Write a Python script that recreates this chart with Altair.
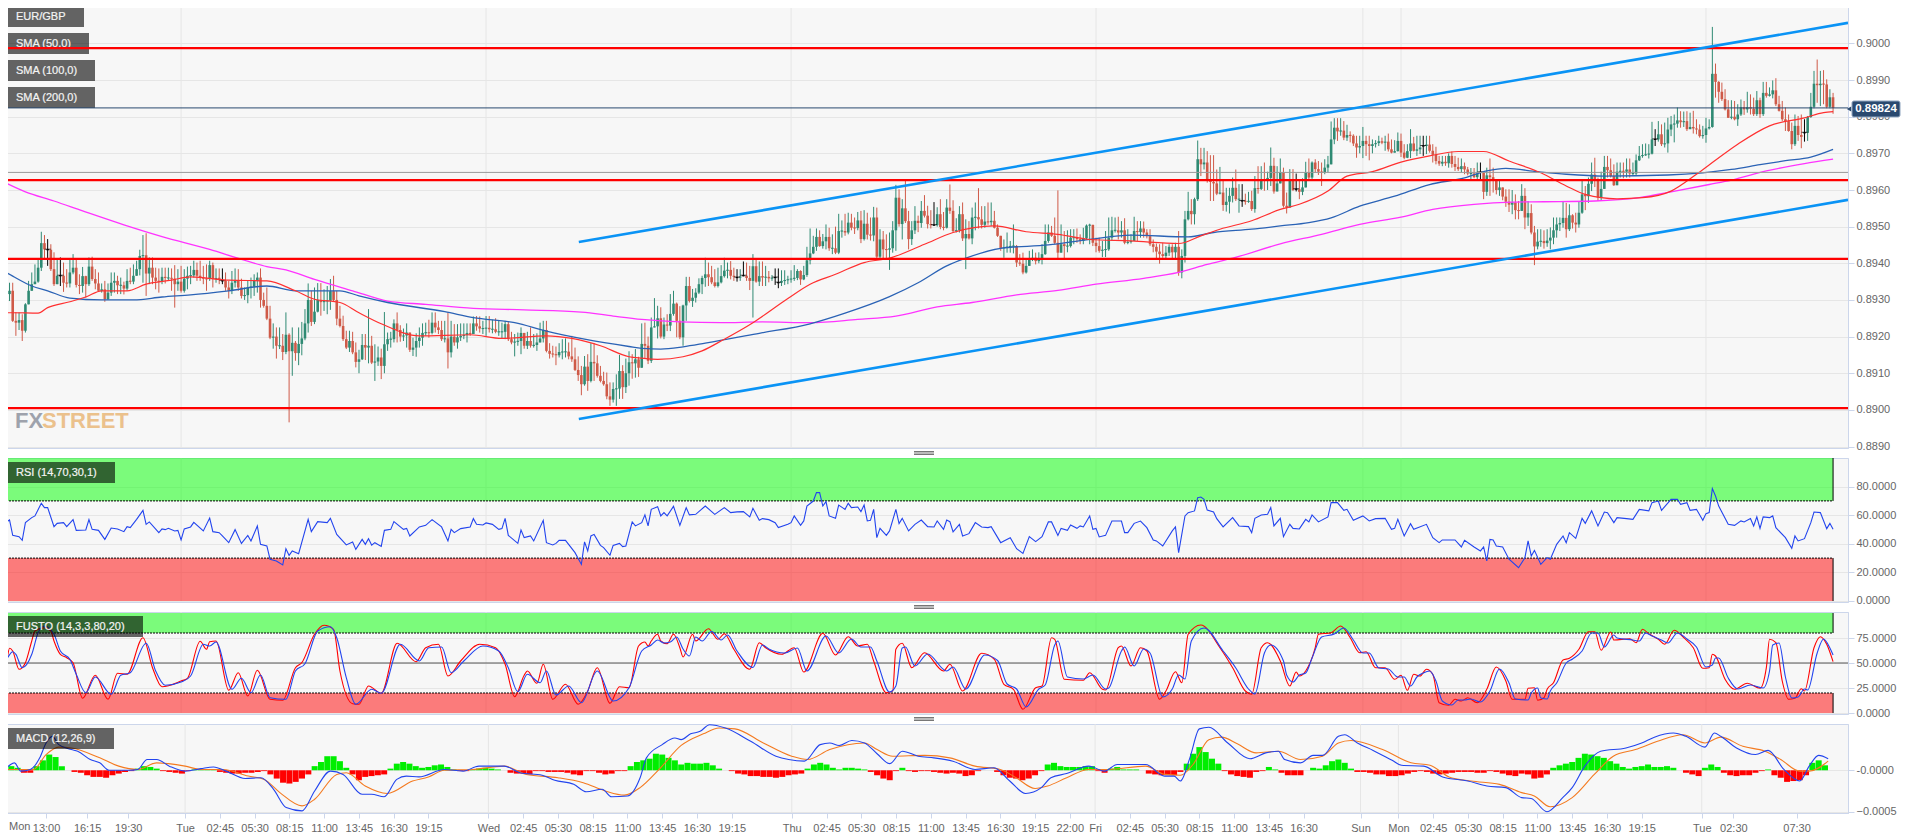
import altair as alt, pandas as pd
W=1848; N=581.7
days=[57,153,249,345,429,441,537]
ticks={13:"13:00",26:"16:15",39:"19:30",57:"Tue",68:"02:45",79:"05:30",90:"08:15",101:"11:00",112:"13:45",123:"16:30",134:"19:15",153:"Wed",164:"02:45",175:"05:30",186:"08:15",197:"11:00",208:"13:45",219:"16:30",230:"19:15",249:"Thu",260:"02:45",271:"05:30",282:"08:15",293:"11:00",304:"13:45",315:"16:30",326:"19:15",337:"22:00",345:"Fri",356:"02:45",367:"05:30",378:"08:15",389:"11:00",400:"13:45",411:"16:30",429:"Sun",441:"Mon",452:"02:45",463:"05:30",474:"08:15",485:"11:00",496:"13:45",507:"16:30",518:"19:15",537:"Tue",547:"02:30",567:"07:30"}
# prices in 0.00001 above 0.89000
close=[288,291,316,325,243,238,245,216,288,325,343,350,388,455,438,437,384,343,366,366,347,345,375,388,341,338,365,343,391,357,345,325,329,302,320,347,352,340,340,331,352,350,366,384,420,422,372,388,361,352,350,363,360,360,358,343,350,325,358,366,367,382,366,361,358,357,395,357,360,358,352,334,325,347,352,334,311,313,334,336,352,361,300,284,249,197,200,175,175,158,205,160,183,155,180,195,236,300,240,268,
300,294,297,298,324,300,249,229,193,170,188,157,131,138,177,170,175,129,132,143,120,179,193,193,236,218,200,203,211,164,170,188,197,210,211,210,238,225,218,193,195,157,200,184,198,202,204,210,207,236,228,222,222,224,220,220,213,213,213,234,193,184,186,188,210,175,188,175,177,184,195,218,161,153,152,149,158,158,159,146,138,109,95,70,118,79,131,127,93,79,70,37,28,57,58,106,
62,100,130,127,138,115,180,175,134,225,228,250,200,233,230,262,290,243,198,285,338,297,306,320,343,360,370,362,348,338,348,365,380,382,366,363,361,364,366,360,352,392,350,365,361,363,359,360,361,347,352,354,356,358,360,379,356,368,408,427,
445,472,447,460,472,441,441,429,488,488,484,511,497,496,517,466,508,478,476,525,418,465,438,437,441,490,579,507,550,515,466,490,516,510,543,530,507,
504,504,534,499,497,552,543,488,490,534,468,480,468,525,526,520,505,514,512,516,497,475,441,443,445,447,447,402,399,375,393,411,415,406,411,425,461,484,475,456,429,452,447,447,470,470,466,461,468,503,505,456,447,434,437,438,470,490,490,484,490,456,458,461,488,485,495,484,474,452,445,432,425,420,429,445,430,445,375,420,520,543,534,575,684,670,675,625,622,618,590,593,559,568,584,606,575,575,
570,568,570,548,605,603,630,626,633,666,596,618,648,557,552,625,600,602,595,607,648,634,675,657,650,648,661,670,738,770,760,762,743,750,748,727,716,720,734,725,720,725,728,733,729,732,711,702,706,734,702,688,706,727,707,711,716,720,724,707,696,679,672,677,673,693,671,663,657,665,656,645,645,635,645,648,595,640,635,625,600,607,582,568,560,566,545,543,584,525,537,484,446,459,461,455,462,
470,490,506,510,524,493,531,511,506,538,588,583,617,642,625,579,603,663,654,638,613,650,652,650,656,645,645,681,693,695,697,699,738,738,752,725,727,765,779,781,790,785,788,766,772,768,765,747,750,768,772,917,895,868,848,820,797,800,793,806,826,820,826,822,807,845,807,865,857,861,872,834,816,793,788,761,725,775,750,745,756,799,827,890,886,890,888,827,853,824]
high=[334,343,343,347,347,267,266,261,291,352,375,397,411,486,477,466,452,430,411,416,402,384,411,425,411,370,390,366,416,418,384,375,345,352,345,375,375,366,361,350,384,388,397,407,437,477,482,416,416,388,386,388,388,388,386,395,384,393,384,391,393,407,402,407,393,397,407,402,386,386,386,375,352,379,386,384,358,334,352,361,370,375,386,320,334,284,236,225,225,207,266,209,225,188,225,240,275,345,325,334,
346,346,329,338,357,366,325,284,257,216,216,213,184,164,207,207,275,202,179,173,167,267,211,213,247,266,231,222,236,211,197,209,225,236,238,246,266,266,243,243,243,266,243,234,234,236,236,236,236,255,256,255,243,256,256,246,250,243,238,243,240,213,207,211,225,209,213,225,207,209,238,243,243,182,175,173,182,193,195,184,202,170,146,120,147,152,182,182,149,120,104,102,75,75,97,150,
122,140,160,152,166,145,236,238,200,252,305,284,280,252,261,316,325,293,283,287,363,363,330,332,359,366,415,402,393,384,388,395,415,402,406,388,384,384,405,402,393,425,411,405,405,393,379,368,386,386,381,381,366,381,395,384,381,393,445,495,
475,495,490,480,506,497,479,500,535,517,535,538,535,525,540,543,545,538,525,554,552,493,488,479,484,515,614,602,575,625,543,515,556,530,570,586,557,
545,567,553,575,540,575,615,572,523,556,566,520,515,552,566,605,556,556,566,566,543,506,475,465,484,461,506,450,425,429,411,434,438,429,430,452,506,506,502,525,599,506,488,490,493,493,495,479,497,506,508,505,470,470,461,488,525,527,525,527,515,523,493,479,527,515,515,514,493,493,465,454,452,456,447,452,452,456,488,438,543,595,575,579,735,715,715,706,695,695,656,663,629,606,606,634,656,616,
616,590,595,598,638,665,665,675,650,716,688,665,686,661,593,657,657,645,629,632,677,686,678,684,679,675,684,693,787,796,796,796,788,778,760,752,748,748,772,748,748,738,736,748,743,748,754,738,736,757,754,725,725,766,745,748,748,748,748,748,725,718,693,693,693,700,705,693,688,686,675,663,660,660,675,675,652,661,686,661,630,629,600,602,602,600,588,570,616,605,570,561,502,493,493,490,493,
498,525,525,525,570,565,561,534,538,570,625,611,634,675,688,634,650,693,693,686,670,675,675,675,686,686,675,697,720,725,727,725,786,766,788,779,784,797,802,806,825,815,814,815,811,816,793,779,775,797,793,1045,945,897,893,875,845,845,843,834,847,843,868,861,852,870,852,895,895,880,899,905,857,843,825,806,784,806,802,806,793,802,865,925,956,925,927,902,875,865]
low=[266,270,270,297,240,202,218,188,211,288,325,345,347,379,411,393,379,338,345,338,322,334,334,370,334,316,320,306,338,352,329,325,320,295,300,311,320,316,316,315,325,343,343,366,367,347,311,343,343,329,320,343,345,352,325,279,325,320,320,329,343,361,352,352,343,325,352,334,347,343,343,325,304,316,334,325,304,300,291,304,311,320,279,279,245,193,167,140,166,136,152,-34,93,134,122,149,190,211,229,234,
266,257,270,261,273,297,231,225,188,166,158,152,116,100,136,136,127,125,79,120,84,100,161,170,184,184,186,188,170,158,147,145,170,175,202,197,206,211,207,188,184,113,143,175,167,188,193,184,202,207,216,211,207,202,211,209,209,202,195,193,188,179,146,175,152,167,166,170,170,161,184,184,157,140,143,122,143,138,143,138,131,106,79,40,66,52,75,79,88,75,66,29,11,20,11,30,
30,46,66,85,88,90,130,140,125,128,225,195,195,193,215,215,257,198,193,175,243,293,281,293,316,316,336,338,343,334,334,345,361,359,356,352,350,352,366,352,327,252,347,338,338,338,348,352,341,332,338,341,343,347,352,354,341,354,363,397,
425,434,445,440,438,434,425,425,425,470,475,479,490,480,490,455,462,465,462,460,414,414,414,411,382,429,434,500,465,510,438,450,480,485,497,525,495,
495,502,500,493,490,495,535,484,484,484,461,384,465,452,490,495,495,497,505,502,495,472,434,415,429,429,427,390,393,370,372,393,406,397,400,397,423,456,472,452,411,432,414,430,443,452,456,452,452,465,452,447,430,429,417,417,434,461,484,465,470,452,452,454,461,461,470,470,468,447,430,414,399,415,414,420,414,411,366,359,402,517,506,506,570,638,656,620,570,570,586,588,543,541,536,566,570,538,
554,560,565,543,538,590,600,598,600,611,590,605,625,552,536,566,597,596,575,586,608,625,625,648,641,611,643,648,670,725,734,748,736,734,730,720,688,700,687,693,681,700,716,720,725,707,705,700,703,705,690,684,687,687,705,693,698,693,698,702,675,670,666,665,666,661,661,652,652,648,643,640,630,632,626,625,575,584,584,593,588,584,572,554,540,534,520,520,543,493,502,479,395,438,445,440,445,
438,452,470,488,497,470,488,495,484,497,535,545,565,597,608,570,570,611,634,634,611,615,634,632,634,634,638,640,679,688,693,686,697,720,732,720,716,702,747,730,770,770,772,761,766,754,752,743,740,729,765,770,852,838,843,817,797,793,790,775,802,805,811,806,802,802,797,802,852,855,850,829,814,788,761,759,711,720,734,714,732,734,797,823,838,829,834,823,823,808]
doji=[15,19,70,232,234,244,245,294,391,408,448,466,521,568]
sma50=[(0,265),(4,265),(12,264),(15,279),(22,295),(27,308),(32,325),(40,325),(46,343),(54,354),(60,363),(72,354),(84,352),(93,325),(99,302),(107,293),(113,265),(120,235),(132,202),(148,205),(158,195),(172,202),(180,195),(189,175),(198,145),(202,141),(207,138),(215,145),(221,161),(228,193),(237,238),(248,304),(255,343),(263,370),(272,402),(280,414),(291,452),(300,484),(313,502),(323,486),(333,479),(343,465),(356,461),(371,454),(378,475),(384,493),(394,516),(403,547),(409,561),(418,597),(424,638),(432,650),(441,676),(450,693),(459,705),(467,705),(475,679),(485,647),(493,611),(499,588),(509,576),(517,579),(526,597),(534,643),(539,675),(547,725),(557,775),(568,797),(574,811),(577,814)]
sma100=[(0,385),(4,365),(10,338),(15,325),(22,305),(32,300),(42,300),(51,308),(60,314),(72,325),(84,338),(93,325),(107,325),(113,311),(122,293),(140,268),(149,252),(162,238),(172,215),(184,193),(198,173),(202,168),(208,166),(215,172),(222,182),(239,209),(255,235),(266,264),(280,309),(289,347),(298,393),(304,414),(315,441),(330,450),(343,465),(356,477),(374,472),(382,484),(394,493),(403,502),(412,511),(419,524),(428,556),(439,583),(450,615),(461,633),(468,652),(474,659),(484,650),(493,643),(505,638),(525,641),(536,647),(545,656),(554,669),(562,680),(570,690),(577,711)]
sma200=[(0,627),(8,595),(17,570),(26,543),(39,505),(51,473),(66,438),(76,411),(84,391),(90,382),(99,356),(111,325),(122,297),(134,288),(149,277),(165,273),(183,267),(193,256),(202,247),(214,240),(227,238),(240,240),(255,238),(270,247),(282,256),(295,281),(306,293),(320,314),(333,326),(345,343),(360,359),(371,375),(380,397),(388,414),(403,453),(416,479),(428,506),(441,526),(451,547),(464,561),(476,567),(486,568),(502,570),(516,579),(526,595),(538,615),(545,627),(556,652),(568,672),(577,684)]
res_lines=[0.89987,0.89412,0.89005,0.89627]
trend=[[(182.2,0.89458),(581.7,0.90056)],[(182.2,0.88975),(581.7,0.89573)]]
last_price=0.89824; grey_level=0.89648
rsi=[(0,51.8),(1,53.6),(3,56.7),(4,45.9),(6,45),(7,42.4),(8,54.8),(10,58.3),(11,59.5),(13,68.3),(14,65.3),(15,65.3),(17,52),(18,54.3),(20,54.8),(21,52),(23,56.9),(24,49.4),(27,49.7),(28,56.9),(29,50.1),(31,49.4),(33,43.1),(35,51),(37,50.4),(39,48.5),(40,52),(41,51.3),(43,57.1),(45,63.4),(46,53.6),(47,55.3),(50,47.8),(51,50.4),(52,49.9),(53,50.8),(55,49),(56,49.4),(57,42.7),(58,50.4),(60,51.8),(61,55),(64,49),(66,58),(67,48.5),(69,47.8),(70,45.5),(72,40.8),(74,49.9),(76,40.3),(78,45.9),(79,42),(81,52.5),(82,39.6),(84,38.5),(85,29.2),(87,28),(89,25.2),(90,36.6),(91,31.9),(92,35),(94,33.1),(97,57.1),(98,48.5),(100,55.5),(103,54.8),(104,57.8),(106,46.6),(109,39.2),(111,41.3),(112,36.1),(114,43.1),(115,39.6),(116,43.6),(117,39),(118,40.8),(120,38.2),(121,49.4),(123,50.1),(124,55.5),(127,50.1),(128,50.8),(129,45.5),(132,51.8),(134,52.9),(136,56.9),(139,51.8),(141,42),(142,50.1),(143,47.8),(145,50.6),(148,51.8),(149,57.6),(150,53.6),(152,53.2),(153,54.6),(155,53.6),(157,50.1),(158,50.6),(159,57.8),(160,45.9),(163,40.3),(164,49.7),(165,44.3),(167,45.5),(168,42),(171,56.4),(172,40.8),(174,39.2),(175,40.3),(176,42.4),(178,42.4),(181,33.8),(183,25.6),(184,41.3),(185,35),(186,45.5),(187,46.6),(189,38.9),(190,37.3),(192,32),(193,38.9),(195,40.3),(196,38),(197,38.5),(199,55.3),(200,52.5),(202,54.8),(203,60.2),(204,52.5),(205,64.1),(207,66),(208,59.5),(209,61.8),(210,59.5),(212,66.2),(214,52.9),(216,65.3),(217,60.2),(219,60.6),(222,66.4),(225,60.6),(228,65.3),(230,61.8),(232,62.3),(234,62.5),(236,58.8),(237,64.8),(239,56.4),(240,57.6),(242,56.9),(244,54.8),(245,51.3),(248,53.6),(249,54.8),(250,59.5),(252,52.9),(253,56),(254,66.4),(256,69.9),(257,75.8),(258,75.8),(259,66.4),(260,69.5),(261,59.5),(263,57.8),(264,67.1),(266,64.1),(267,68.3),(268,65.3),(270,65.7),(271,62.5),(272,67.1),(273,56),(274,56.4),(275,64.1),(276,44.3),(277,50.8),(279,45.9),(280,49),(282,64.1),(283,54.1),(284,57.8),(286,49),(288,53.6),(290,56.6),(292,52),(294,51.8),(295,56),(297,50.1),(298,56.6),(299,55.5),(300,48.3),(302,53.6),(303,45.5),(305,47.1),(307,54.8),(309,51.8),(311,51.3),(312,52),(315,40.8),(316,42),(318,44.3),(320,36.6),(322,33.3),(324,45),(326,41.5),(328,45),(330,55.3),(331,55.3),(333,45.9),(334,50.8),(336,49.4),(337,53.2),(339,50.8),(340,52.5),(341,51.8),(343,59.5),(344,50.1),(345,50.8),(346,44.8),(348,45.9),(350,55.9),(353,55.9),(354,47.8),(355,47.8),(357,54.3),(359,55.9),(361,51.3),(363,42.7),(364,42),(366,38.5),(369,49),(370,51.8),(371,33.8),(373,59.5),(374,61.8),(376,63),(377,72.3),(378,72.7),(379,71.1),(380,63.6),(382,62.2),(383,57.6),(385,51.8),(388,58.3),(390,52.5),(393,52),(394,47.8),(395,57.8),(397,60.2),(399,60.6),(400,65.3),(401,52.5),(403,57.8),(404,45),(406,53.6),(407,50.8),(409,50.4),(411,57.1),(412,55.3),(413,60.2),(415,55.3),(418,58.8),(419,68.8),(421,68.8),(423,63.4),(424,64.1),(426,56.4),(429,59.5),(431,56),(433,57.6),(436,57.8),(438,50.1),(439,50.8),(440,57.1),(442,45.5),(444,54.1),(445,50.1),(449,53.6),(451,44.3),(453,40.8),(454,42.7),(458,42.7),(460,37.8),(461,42.4),(464,37.8),(466,35),(467,37.8),(468,28),(469,43.1),(470,42.7),(471,38.5),(473,37.8),(475,29.2),(478,23.3),(480,30.3),(481,42),(482,31.5),(483,35.4),(485,25.6),(487,30.3),(488,29.2),(490,39.6),(492,45.5),(493,40.8),(494,47.8),(496,43.8),(498,57.8),(499,54.3),(501,63),(503,52.5),(505,62.2),(506,61.8),(508,54.8),(509,58.3),(512,57.6),(514,57.1),(516,64.1),(519,63),(520,68.8),(522,69.9),(523,63.4),(526,71.1),(528,71.1),(529,67.6),(531,68.8),(532,63.4),(534,64.1),(536,56.4),(537,61.1),(538,61.8),(539,78.6),(540,73.4),(541,66.4),(544,53.6),(546,52.9),(548,56),(549,55.3),(551,57.6),(552,52.5),(553,58.8),(554,50.8),(555,58.8),(557,58.3),(558,59.5),(559,51.3),(562,44.3),(564,36.8),(565,45.5),(566,42),(568,43.6),(570,54.8),(571,62.2),(573,61.8),(575,50.6),(576,54.3),(577,50.1)]
sto_k=[(0,49.7),(2,52),(3,64.7),(4,62),(6,43.7),(8,50.3),(10,72),(11,82),(14,85.3),(16,82),(17,72),(19,58.7),(21,55.3),(23,50.3),(26,14.7),(30,37.7),(34,13.7),(37,39.7),(40,38.7),(45,75.3),(48,45.3),(51,26.3),(57,32),(59,34.7),(63,71.7),(65,63.7),(66,71.3),(68,72),(72,22.7),(75,40.3),(78,17),(81,42.7),(85,13.7),(89,12.7),(93,45.3),(95,50.3),(99,78.7),(102,87.7),(105,83.7),(107,42),(111,9.3),(113,8.7),(116,27),(120,19.7),(125,69.7),(131,51.3),(134,65.3),(138,68.7),(141,37),(145,52),(151,68.7),(156,65.3),(159,48.7),(162,16.3),(165,37.7),(166,42),(169,29.7),(171,48.7),(174,13.7),(178,28.7),(182,8.7),(185,22),(188,45.3),(192,9.7),(195,26.3),(198,25.3),(201,67),(203,71),(204,67),(205,72),(207,78.7),(208,72),(210,69.3),(212,78.7),(214,65.3),(215,56),(218,78.7),(219,72),(223,84.3),(226,73.7),(228,79.3),(231,63.7),(236,43.7),(239,70.3),(241,65.3),(246,58.7),(250,65.3),(253,41),(259,79.7),(263,58),(267,76.3),(270,67),(273,68.7),(275,52),(279,20.3),(281,22),(282,63.7),(284,69.7),(287,45.3),(291,60.3),(297,42),(299,48.7),(303,22),(309,59.7),(313,53.7),(316,28.7),(319,23.7),(322,3.7),(326,25.3),(328,27),(331,75.3),(332,73.7),(335,33.7),(341,32.7),(343,40.3),(347,23.7),(348,23),(352,65.3),(353,67),(356,47),(359,65.3),(361,62),(365,13.7),(367,22),(370,41.3),(372,30.3),(374,78.7),(378,88),(384,65.3),(388,45.3),(392,22),(394,18.7),(397,65.3),(399,70.3),(403,52),(406,27),(408,41),(409,37),(411,42),(414,65.3),(415,78.7),(419,80.3),(422,87),(425,75.3),(428,60.3),(430,61.3),(433,45.3),(436,45.3),(439,33.7),(441,37.7),(443,22.7),(445,38.7),(447,37),(449,43.7),(451,38.7),(453,10.3),(456,7.7),(458,13.7),(460,12),(462,15.3),(465,10.3),(468,23.7),(471,46),(474,32),(476,13.7),(480,13.7),(481,24.7),(483,25.3),(484,12.7),(486,15.3),(487,23.7),(489,30.3),(492,53),(494,54.7),(497,63.7),(500,81.3),(502,81.3),(504,62.7),(507,81),(508,73),(513,74.3),(515,70.3),(517,83.7),(519,79.3),(522,73.7),(524,68.7),(527,82.7),(530,75.3),(533,65.3),(536,44.7),(538,45.3),(539,58.7),(540,57),(543,33.7),(546,23.7),(550,29.7),(554,24.7),(556,45.3),(557,73.7),(559,70.3),(561,32),(563,13.7),(565,14.7),(567,24.3),(568,22),(571,65.3),(573,76.3),(575,68.7),(577,51.3)]
sto_d=[(0,48.7),(2,53.7),(4,61.3),(5,58.7),(7,45.3),(10,58.7),(12,80.3),(14,87),(17,78.7),(19,62),(22,53.7),(24,38.7),(27,20.3),(30,36),(35,18.7),(38,37.7),(41,40.3),(46,69.7),(49,42),(52,27.7),(57,31),(60,37),(64,68.7),(66,67),(68,71),(73,23.7),(76,34.7),(79,20.3),(82,38),(85,15.3),(90,13.7),(93,42),(96,49.3),(100,82),(104,86.3),(106,75.3),(109,35.3),(112,8.7),(117,23.7),(120,19.7),(126,68.7),(132,52),(135,65.3),(139,66),(142,40.3),(146,52),(152,67),(157,62),(160,45.3),(163,21.3),(166,38.7),(170,30.3),(172,42),(175,18),(179,27),(183,10.3),(188,42),(193,12),(198,25.3),(202,62),(205,68),(207,73),(209,70),(211,71),(213,76),(215,64),(217,57),(219,76),(221,72),(224,81.5),(227,73),(229,78),(232,62),(237,45.5),(240,68),(242,64),(247,60),(251,65),(254,42),(260,77),(264,60),(268,74),(271,66),(274,66),(276,52),(280,21),(282,27),(284,65),(285,66),(288,47),(292,59),(298,42),(300,46),(304,24),(310,58),(314,52.5),(317,29),(320,24),(323,6),(327,24),(329,28),(332,68),(333,72),(336,36),(341,34),(344,38),(348,24),(349,25),(353,62),(354,66),(357,47),(360,64),(362,60),(366,16),(369,24),(371,38),(373,34),(375,72),(379,85),(385,62),(389,45),(393,24),(395,19),(398,60),(400,68),(404,52),(405,38),(407,31),(409,38),(411,40),(413,55),(416,76),(420,79),(423,85),(426,73),(429,60),(431,60),(434,45),(437,44),(440,36),(442,36),(444,27),(446,36),(448,40),(450,42),(452,32),(454,12),(457,8),(459,13),(461,13),(463,14),(466,11),(469,22),(472,44),(475,30),(477,14),(481,13),(482,20),(484,25),(485,15),(487,14),(488,22),(490,30),(493,50),(495,54),(498,62),(501,80),(503,80),(505,66),(508,78),(509,75),(514,73),(516,72),(518,80),(520,77),(523,73),(525,70),(528,80),(531,74),(534,66),(537,46),(539,48),(540,55),(541,55),(544,35),(547,24),(551,28),(555,25),(557,42),(558,68),(560,70),(562,36),(564,15),(566,16),(568,24),(569,23),(572,60),(574,74),(576,65),(577,58)]
# MACD in units of 0.0001
macd=[(0,.1),(3,.9),(5,-.1),(8,.1),(11,1.5),(13,3.3),(15,4.1),(17,3.1),(21,2.5),(23,2.3),(27,1.3),(30,.9),(33,0),(39,0),(42,.1),(45,1.3),(48,1.3),(52,.5),(57,-.1),(62,.2),(66,.4),(70,-.1),(76,-1),(81,-.9),(85,-2.3),(89,-4.5),(94,-4.9),(98,-2.5),(103,-.1),(107,-.5),(113,-2.9),(116,-2.9),(120,-3.2),(124,-1.1),(127,-.7),(131,-.8),(139,.1),(145,-.1),(150,.5),(158,.5),(163,-.3),(170,-.6),(174,-1.2),(180,-1.7),(184,-2.6),(189,-2.3),(192,-3.2),(197,-3.1),(201,-.9),(203,1.5),(208,3.1),(212,3.9),(214,3.7),(217,4.4),(220,4.7),(223,5.5),(228,5.1),(236,3.5),(244,1.7),(248,1.3),(253,1.1),(258,3.1),(261,3.3),(264,3),(268,3.6),(272,3.3),(276,2),(280,.8),(284,2.3),(289,1.7),(294,1.5),(300,1.1),(307,.1),(313,.3),(318,-1.3),(323,-2.8),(328,-2.1),(331,-.9),(336,-.4),(343,.5),(348,-.1),(352,.7),(361,.7),(367,-.7),(370,-.7),(372,-1.3),(375,1.5),(378,5),(381,5.2),(387,3.3),(394,1.4),(399,2.1),(403,2.3),(405,1.3),(410,.9),(414,1.8),(417,1.8),(422,4.1),(424,4.3),(428,3.3),(433,2.4),(439,1.2),(442,.6),(449,.5),(455,-.8),(463,-1.3),(469,-1.9),(475,-2.1),(480,-3.3),(483,-3.4),(488,-5),(493,-3.3),(496,-2.1),(500,.5),(505,2.3),(513,2.7),(518,3.3),(522,4),(528,4.5),(532,4.1),(538,2.8),(541,4.5),(543,4.1),(548,2.7),(554,1.9),(558,2.4),(563,.1),(568,-1.3),(571,.5),(574,1.8),(577,1.4)]
signal=[(0,.1),(5,.1),(9,.1),(13,1.9),(17,2.8),(21,2.7),(30,1.5),(36,.5),(42,.1),(48,.9),(57,.5),(62,.1),(69,.1),(77,-.7),(82,-1.1),(87,-2.7),(94,-4.3),(98,-3.5),(105,-.5),(108,-.3),(114,-1.9),(121,-2.8),(129,-1.3),(134,-.8),(139,0),(148,.1),(158,.5),(165,-.5),(175,-.9),(183,-1.5),(190,-2.5),(196,-3),(201,-2.1),(207,.1),(214,3),(221,4.4),(226,5.1),(231,5),(240,3.3),(249,1.7),(254,1.3),(261,2.5),(272,3.3),(276,2.5),(281,1.7),(291,1.8),(299,1.5),(307,.5),(315,.1),(320,-.9),(326,-2.2),(330,-1.9),(336,-.9),(343,.1),(349,.1),(361,.5),(367,-.5),(372,-.6),(376,.7),(381,3.7),(385,4),(390,3.2),(396,2.1),(403,2.3),(410,1.3),(417,1.7),(422,3.3),(426,3.6),(436,2.5),(445,.9),(451,.6),(457,-.8),(464,-1.3),(473,-1.7),(480,-2.7),(484,-3.1),(489,-4.4),(496,-3.3),(503,-.5),(509,1.7),(516,2.5),(523,3.5),(531,4.3),(538,3.3),(543,4),(550,2.9),(557,2.3),(562,1.3),(568,-.1),(571,-.1),(577,1.1)]
hist=[.3,.5,.3,-.3,-.3,.5,1.2,1.9,1.6,.5,0,-.2,-.3,-.6,-.8,-.8,-.9,-.6,-.4,-.2,-.1,.2,.5,.4,.2,-.1,-.2,-.3,-.4,-.1,.1,.1,.1,.1,-.2,-.3,-.4,-.4,-.3,-.3,-.2,-.1,-.5,-1,-1.5,-1.6,-1.4,-1,-.5,.5,1,1.7,1.7,1.1,.3,-.5,-1.2,-.8,-.7,-.6,-.5,.2,.8,1,.8,.5,.3,.4,.6,.7,.4,.1,-.1,-.1,.1,.2,.3,.2,.1,0,-.3,-.4,-.4,-.5,-.1,-.1,-.2,-.2,-.2,-.3,-.5,-.6,-.1,-.1,-.3,-.5,-.4,-.1,-.1,.5,1,1.2,
1.4,2,1.9,1.5,1.2,.7,.9,.8,.8,.9,.6,.2,0,-.1,-.4,-.5,-.7,-.7,-.8,-.8,-.9,-.8,-.6,-.5,-.4,.2,.7,.9,.7,.3,.1,.3,.3,.2,.1,-.2,-.6,-1,-1.2,-.1,.3,-.1,-.2,-.1,-.1,-.2,-.3,-.4,-.3,-.4,-.7,-.6,-.1,0,0,-.2,-.6,-.9,-1,-1.2,-1,-.6,-.1,.7,.9,.5,.4,.4,.4,.5,.5,-.1,-.3,.2,.4,.1,.1,.1,0,-.4,-.5,-.6,-.6,-.6,-.2,.8,2,2.8,2.2,1.4,.8,-.1,-.5,-.7,-.8,-.9,-.2,-.1,.4,.1,
-.3,-.6,-.6,-.6,0,.3,.2,.6,1.1,1.3,.9,.2,-.2,-.2,-.3,-.5,-.5,-.7,-.7,-.6,-.4,-.2,-.1,-.2,-.4,-.5,-.4,-.3,-.2,-.2,-.2,-.3,-.3,-.1,-.2,-.4,-.6,-.7,-.4,-.5,-1,-.9,-.5,.3,.6,.8,1,1.5,2,1.9,1.7,1.5,1.1,.8,.4,.2,.4,.5,.7,.4,.4,.5,.3,0,-.3,-.5,-.7,.3,.7,.4,-.3,-.6,-.7,-.6,-.6,-.3,-.1,.1,-.6,-.9,-1.4,-1.3,-1.2,-.6,.9,1.2,.6]

FONT="Liberation Sans"; BG="#f7f7f7"; BORDER="#ccd6eb"; GRID="#e6e6e6"; LAB="#666666"
UP="#2f8a73"; DOWN="#cf5a48"
def P(v): return 0.89+v/1e5
opens=[close[0]]+close[:-1]
rows=[]
for i,(o,h,l,c) in enumerate(zip(opens,high,low,close)):
    if i in doji: o=c
    top,bot=max(o,c),min(o,c)
    if top-bot<3:
        m=(top+bot)/2; top,bot=m+1.5,m-1.5
    rows.append(dict(i=i,h=P(max(h,top)),l=P(min(l,bot)),top=P(top),bot=P(bot),k="doji" if i in doji else ("up" if c>=o else "down")))
candles=pd.DataFrame(rows)
xs=alt.Scale(domain=[0,N],nice=False,zero=False)
XAX=None
def X(f="i"): return alt.X(f+":Q",scale=xs,axis=XAX,title=None)
def YY(f,ys): return alt.Y(f+":Q",scale=ys,title=None)
def series(pts,f=lambda v:v): return pd.DataFrame([dict(i=a,v=f(b)) for a,b in pts])
def yax(vals,expr=None):
    kw=dict(values=vals,tickCount=len(vals)+1,orient="right",tickSize=6,tickColor=BORDER,domainColor=BORDER,labelColor=LAB,labelFont=FONT,labelFontSize=11,gridColor=GRID,grid=True,labelPadding=2,title=None,format=".4f",labelOverlap=False,labelBound=False)
    if expr: kw["labelExpr"]=expr
    return alt.Axis(**kw)
def box(lbl,color,x2,y1):
    d=alt.Data(values=[{"t":lbl}])
    b=alt.Chart(d).mark_rect(color="black",opacity=.6).encode(x=alt.value(5),x2=alt.value(x2),y=alt.value(y1),y2=alt.value(y1+21))
    s=alt.Chart(d).mark_rect(color=color).encode(x=alt.value(5),x2=alt.value(7),y=alt.value(y1),y2=alt.value(y1+21))
    t=alt.Chart(d).mark_text(align="left",baseline="middle",font=FONT,fontSize=11,color="#f4f4f4",stroke="#f4f4f4",strokeWidth=.2).encode(x=alt.value(16),y=alt.value(y1+10.5),text="t:N")
    return b+s+t
def panel(dom,h,vals,layers,expr=None,xaxis=None):
    global XAX
    XAX=None if xaxis is None else alt.Undefined
    ys=alt.Scale(domain=dom,nice=False,zero=False)
    base=alt.Chart(alt.Data(values=[{"i":0,"v":dom[0]}])).mark_point(opacity=0).encode(
        x=alt.X("i:Q",scale=xs,axis=xaxis,title=None),y=alt.Y("v:Q",scale=ys,axis=yax(vals,expr),title=None))
    grid=alt.Chart(pd.DataFrame({"i":days})).mark_rule(color=GRID,strokeWidth=1).encode(x=X())
    return alt.layer(base,grid,*layers(ys)).properties(width=W,height=h,view=alt.ViewConfig(fill=BG,stroke=BORDER))
def handle(h):
    d=alt.Data(values=[{"a":1}])
    return [alt.Chart(d).mark_rule(color="#777",strokeWidth=1,clip=False).encode(x=alt.value(914),x2=alt.value(934),y=alt.value(h+dy)) for dy in (3.5,5,6.5)]
def line(pts,color,ys,w=1.2,f=lambda v:v,interp="linear"):
    return alt.Chart(series(pts,f)).mark_line(color=color,strokeWidth=w,clip=True,interpolate=interp).encode(x=X(),y=YY("v",ys))
def bands(ys,hi,lo,top,bottom,end=577):
    out=[]
    for a,b,c in ((hi,top,"#00ff00"),(bottom,lo,"#ff0000")):
        d=pd.DataFrame([dict(a=0,b=end,y=a,y2=b)])
        out.append(alt.Chart(d).mark_rect(color=c,opacity=.5).encode(x=X("a"),x2="b:Q",y=YY("y",ys),y2="y2:Q"))
        for v in (0,end):
            e=pd.DataFrame([dict(a=v,y=a,y2=b)])
            out.append(alt.Chart(e).mark_rule(color="black",strokeWidth=1).encode(x=X("a"),y=YY("y",ys),y2="y2:Q"))
    l=pd.DataFrame({"a":[0,0],"b":[end,end],"y":[hi,lo]})
    out.append(alt.Chart(l).mark_rule(color="black",strokeWidth=1,strokeDash=[2,1]).encode(x=X("a"),x2="b:Q",y=YY("y",ys)))
    return out
kcol=alt.Color("k:N",scale=alt.Scale(domain=["up","down","doji"],range=[UP,DOWN,"#000000"]),legend=None)
def p1_layers(ys):
    wick=alt.Chart(candles).mark_rule(strokeWidth=1).encode(x=X(),y=YY("l",ys),y2="h:Q",color=kcol)
    body=alt.Chart(candles).mark_rule(strokeWidth=2.6).encode(x=X(),y=YY("bot",ys),y2="top:Q",color=kcol)
    dj=alt.Chart(candles[candles.k=="doji"]).mark_tick(color="black",size=6,thickness=1,orient="horizontal").encode(x=X(),y=YY("top",ys))
    hl=alt.Chart(pd.DataFrame({"v":res_lines})).mark_rule(color="#ff0000",strokeWidth=2.2).encode(y=YY("v",ys))
    lv=[alt.Chart(pd.DataFrame({"v":[last_price]})).mark_rule(color="#2a4a70",strokeWidth=1).encode(y=YY("v",ys)),
        alt.Chart(pd.DataFrame({"v":[grey_level]})).mark_rule(color="#999999",strokeWidth=1).encode(y=YY("v",ys))]
    tr=[line(t,"#0a93f5",ys,2.6) for t in trend]
    wm=[alt.Chart(alt.Data(values=[{"t":t}])).mark_text(align="left",baseline="alphabetic",font=FONT,fontSize=22,fontWeight="bold",color=c,opacity=.85).encode(x=alt.value(px),y=alt.value(426),text="t:N") for t,c,px in (("FX","#8f94a0",15),("STREET","#eab87a",42))]
    tag=alt.Chart(alt.Data(values=[{"t":f"{last_price:.5f}"}]))
    tags=[tag.mark_rect(color="#2a4a70",stroke="#8fa5bf",strokeWidth=1,cornerRadius=2,clip=False).encode(x=alt.value(1852),x2=alt.value(1900),y=alt.value(99),y2=alt.value(115)),
          tag.mark_point(shape="triangle-left",filled=True,color="#2a4a70",size=25,opacity=1,clip=False).encode(x=alt.value(1849),y=alt.value(107)),
          tag.mark_text(font=FONT,fontSize=11.5,fontWeight="bold",color="white",baseline="middle",align="center",clip=False).encode(x=alt.value(1876),y=alt.value(107),text="t:N")]
    return wm+[wick,body,dj,line(sma200,"#ff33ff",ys,1.3,P,"monotone"),line(sma100,"#2a62b5",ys,1.3,P,"monotone"),line(sma50,"#ff3030",ys,1.2,P,"monotone"),
        box("EUR/GBP","#2e8b74",84,4),box("SMA (50,0)","#ff0000",89,31),box("SMA (100,0)","#1f5fb4",95,58),box("SMA (200,0)","#ff00ff",95,85),
        hl]+lv+tr+tags+handle(446)
def p2_layers(ys):
    return bands(ys,70,30,100,0)+[line(rsi,"#2244ee",ys,1.1),box("RSI (14,70,30,1)","#0033ff",115,4)]+handle(144)
def p3_layers(ys):
    mid=alt.Chart(pd.DataFrame({"v":[50]})).mark_rule(color="#555555",strokeWidth=1).encode(y=YY("v",ys))
    return bands(ys,80,20,100,0)+[mid,line(sto_k,"#ff0000",ys,1.1,interp="monotone"),line(sto_d,"#2244ee",ys,1.1,interp="monotone"),box("FUSTO (14,3,3,80,20)","#ff0000",143,4)]+handle(102)
def p4_layers(ys):
    M=lambda v:v/1e4
    hd=pd.DataFrame([dict(i=2*n,v=M(h),z=0) for n,h in enumerate(hist)])
    bars=[alt.Chart(hd[(hd.v>=0) if g else (hd.v<0)]).mark_bar(size=6,color=c).encode(x=X(),y=YY("v",ys),y2="z:Q") for g,c in ((True,"#00ee00"),(False,"#ff0000"))]
    mon=alt.Chart(alt.Data(values=[{"t":"Mon"}])).mark_text(font=FONT,fontSize=11,color=LAB,clip=False,baseline="alphabetic",align="left").encode(x=alt.value(9),y=alt.value(106),text="t:N")
    return bars+[line(signal,"#f47a20",ys,1.1,M,"monotone"),line(macd,"#2244ee",ys,1.1,M,"monotone"),box("MACD (12,26,9)","#0033ff",114,4),mon]
labexpr="{"+",".join(f"'{k}':'{v}'" for k,v in ticks.items())+"}[datum.value]"
xa=alt.Axis(values=list(ticks),tickCount=len(ticks)+1,labelExpr=labexpr,grid=False,orient="bottom",tickSize=5,tickColor=BORDER,domainColor=BORDER,labelColor=LAB,labelFont=FONT,labelFontSize=11,title=None,labelFlush=False,labelOverlap=False,labelPadding=4)
p1=panel([0.88896,0.90113],446,[round(.889+.001*i,3) for i in range(12)],p1_layers)
p2=panel([-0.7,100],144,[0,20,40,60,80],p2_layers)
p3=panel([-1,101],102,[0,25,50,75],p3_layers)
p4=panel([-0.000516,0.000559],89,[0,-0.0005],p4_layers,expr="datum.value==0?'-0.0000':format(datum.value,'.4f')",xaxis=xa)
chart=alt.vconcat(p1,p2,p3,p4,spacing=10,bounds="flush").properties(padding={"left":-12,"top":-7,"right":0,"bottom":0})
chart.save("out.html",embed_options={"renderer":"svg","actions":False})
